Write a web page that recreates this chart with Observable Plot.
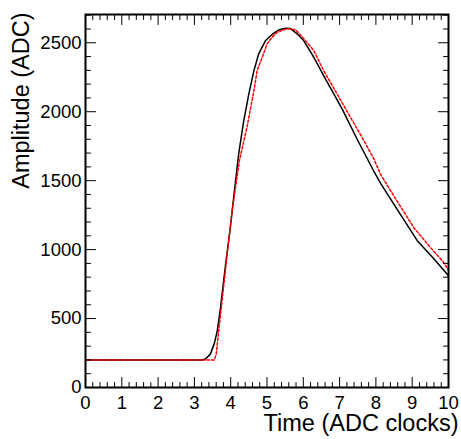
<!DOCTYPE html>
<html>
<head>
<meta charset="utf-8">
<script src="https://cdn.jsdelivr.net/npm/d3@7"></script>
<script src="https://cdn.jsdelivr.net/npm/@observablehq/plot@0.6"></script>
<style>
  html, body { margin: 0; padding: 0; background: #fff; }
  #chart svg { overflow: visible; }
</style>
</head>
<body>
<div id="chart"></div>
<script>
// ---- data ----
const blackTime = [0, 3.2, 3.3, 3.44, 3.55, 3.63, 3.72, 3.86, 3.98, 4.1, 4.22, 4.36, 4.5, 4.64, 4.77, 4.96, 5.14, 5.33, 5.51, 5.65, 5.83, 6.01, 6.29, 6.56, 6.84, 7.08, 7.48, 7.94, 8.13, 8.59, 9.14, 9.59, 10];
const blackAmp  = [200, 200, 206, 242, 320, 411, 580, 895, 1137, 1420, 1694, 1935, 2129, 2298, 2419, 2516, 2560, 2594, 2605, 2603, 2565, 2516, 2395, 2262, 2129, 2015, 1802, 1570, 1481, 1290, 1065, 935, 811];

const redTime = [0, 3.55, 3.6, 3.67, 3.8, 3.92, 4.05, 4.24, 4.45, 4.64, 4.73, 4.87, 5.0, 5.14, 5.28, 5.56, 5.79, 6.01, 6.29, 6.56, 6.93, 7.3, 7.62, 7.94, 8.13, 8.49, 9.04, 9.5, 9.83, 10];
const redAmp  = [200, 200, 240, 411, 720, 1010, 1300, 1645, 1890, 2153, 2300, 2395, 2492, 2540, 2576, 2603, 2594, 2530, 2443, 2298, 2129, 1959, 1814, 1660, 1545, 1391, 1161, 1016, 919, 852];

const xMajor = [0, 1, 2, 3, 4, 5, 6, 7, 8, 9, 10];
const yMajor = [0, 500, 1000, 1500, 2000, 2500];
const xMinor = d3.range(0, 50).map(i => i / 5).filter(v => v % 1 !== 0);
const yMinor = d3.range(0, 2701, 100).filter(v => v % 500 !== 0);

const xTitle = "Time (ADC clocks)";
const yTitle = "Amplitude (ADC)";

// ---- build tables ----
const blackData = blackTime.map((t, i) => ({t, v: blackAmp[i]}));
const redData = redTime.map((t, i) => ({t, v: redAmp[i]}));

const tickShape = {draw(context, l) { context.moveTo(0, 0); context.lineTo(0, -l); }};
const tickStyle = {shape: tickShape, anchor: "start", stroke: "black", strokeWidth: 1};

function ticksX(values, len) {
  return [
    Plot.vector(values, {x: d => d, frameAnchor: "bottom", rotate: 0, length: len, ...tickStyle}),
    Plot.vector(values, {x: d => d, frameAnchor: "top", rotate: 180, length: len, ...tickStyle})
  ];
}
function ticksY(values, len) {
  return [
    Plot.vector(values, {y: d => d, frameAnchor: "left", rotate: 90, length: len, ...tickStyle}),
    Plot.vector(values, {y: d => d, frameAnchor: "right", rotate: -90, length: len, ...tickStyle})
  ];
}

const chart = Plot.plot({
  width: 461,
  height: 439,
  marginLeft: 85,
  marginRight: 13,
  marginTop: 14,
  marginBottom: 52,
  style: {fontFamily: "'Liberation Sans', Arial, Helvetica, sans-serif", color: "black", background: "white", overflow: "visible"},
  x: {domain: [0, 10], axis: null},
  y: {domain: [0, 2705], axis: null},
  marks: [
    Plot.line(blackData, {x: "t", y: "v", stroke: "black", strokeWidth: 1.5}),
    Plot.line(redData, {x: "t", y: "v", stroke: "#ff0000", strokeWidth: 1.5, strokeDasharray: "2.5,2"}),
    ...ticksX(xMajor, 10),
    ...ticksX(xMinor, 5),
    ...ticksY(yMajor, 10),
    ...ticksY(yMinor, 5),
    Plot.frame({stroke: "black", strokeWidth: 2}),
    Plot.axisX(xMajor, {label: null, tickSize: 0, tickPadding: 8, fontSize: 18.5, tickFormat: d => String(d), fill: "black"}),
    Plot.axisY(yMajor, {label: null, tickSize: 0, tickPadding: 4, fontSize: 18.5, tickFormat: d => String(d), fill: "black"}),
    Plot.text([xTitle], {text: d => d, frameAnchor: "bottom-right", dx: 10, dy: 43, textAnchor: "end", lineAnchor: "bottom", fontSize: 23.5, fill: "black"}),
    Plot.text([yTitle], {text: d => d, frameAnchor: "top-left", dx: -57, dy: -2, rotate: -90, textAnchor: "end", lineAnchor: "bottom", fontSize: 23.5, fill: "black"})
  ]
});
document.getElementById("chart").appendChild(chart);
</script>
</body>
</html>
